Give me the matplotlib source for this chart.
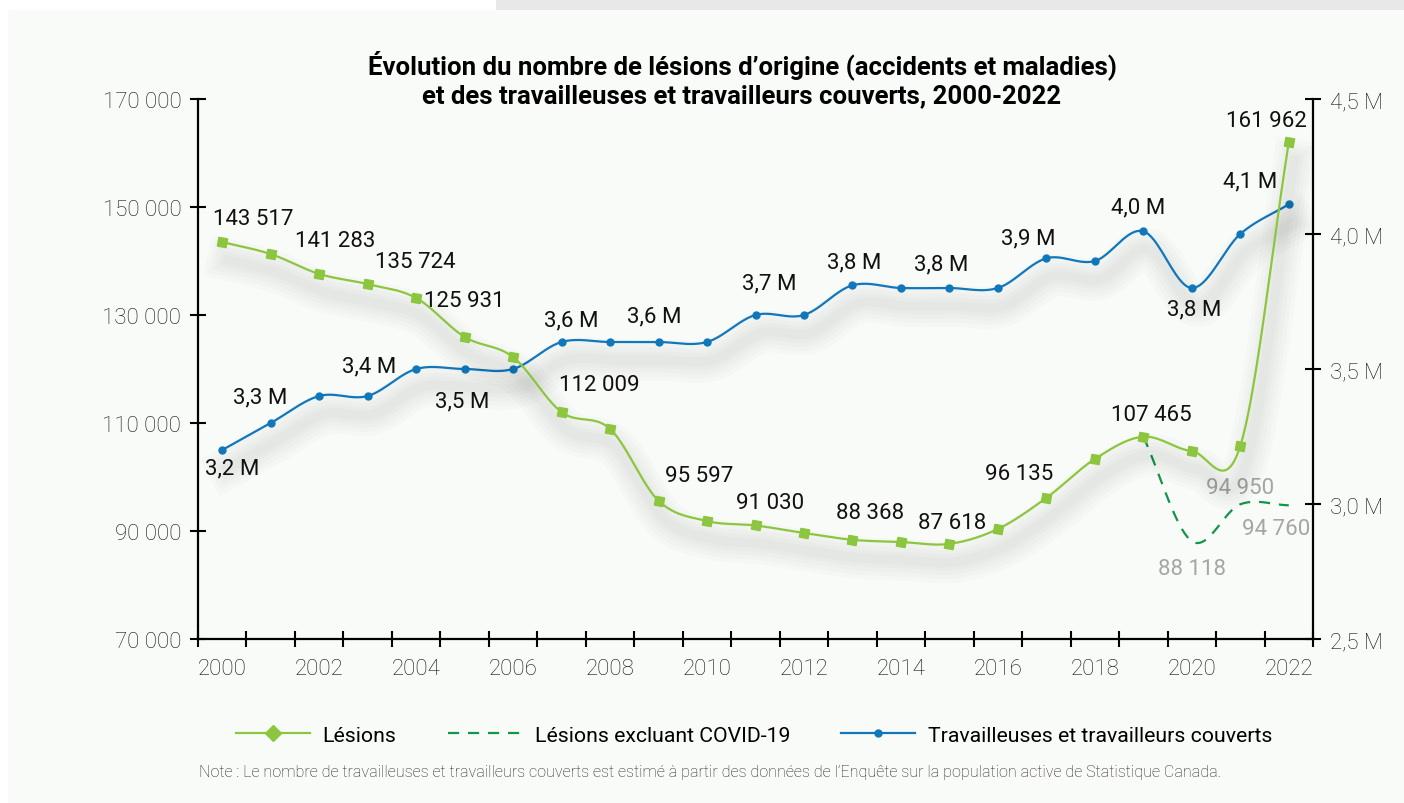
import numpy as np
import matplotlib
matplotlib.use("Agg")
import matplotlib.pyplot as plt
import matplotlib.patheffects as pe
from matplotlib.lines import Line2D
from matplotlib.patches import Rectangle

plt.rcParams['font.family'] = ['Roboto', 'DejaVu Sans']

# Data
years = list(range(2000, 2023))
lesions = [143517, 141283, 137600, 135724, 133150, 125931, 122200, 112009, 108900, 95597,
           91850, 91030, 89630, 88368, 87960, 87618, 90370, 96135, 103330, 107465,
           104800, 105740, 161962]
covid_years = [2019, 2020, 2021, 2022]
lesions_sans_covid = [107465, 88118, 94950, 94760]
travailleurs = [3.20, 3.30, 3.40, 3.40, 3.50, 3.50, 3.50, 3.60, 3.60, 3.60,
                3.60, 3.70, 3.70, 3.81, 3.80, 3.80, 3.80, 3.91, 3.90, 4.01,
                3.80, 4.00, 4.11]
year_labels = [str(y) for y in years[::2]]
left_ticks = [70000, 90000, 110000, 130000, 150000, 170000]
right_ticks = [2.5, 3.0, 3.5, 4.0, 4.5]

# which points get a label, and where the label sits (offset in px from the point)
les_lab = {2000: (31, 24), 2001: (64, 14), 2003: (48, 23), 2005: (0, 36), 2007: (38, 28),
           2009: (41, 25), 2011: (15, 23), 2013: (18, 27), 2015: (3, 21), 2017: (-27, 24),
           2019: (8, 22), 2022: (-22, 22)}
cov_lab = {2020: (0, -27), 2021: (0, 17), 2022: (-13, -23)}
trav_lab = {2000: (10, -18), 2001: (-11, 26), 2003: (1, 30), 2005: (-2, -32), 2007: (10, 22),
            2009: (-4, 26), 2011: (14, 32), 2013: (2, 23), 2015: (-8, 24), 2017: (-18, 20),
            2019: (-5, 24), 2020: (2, -21), 2022: (-39, 23)}

GREEN = '#8cc63f'
DGREEN = '#12964a'
BLUE = '#1177bb'
GREY = '#a5a5a5'


def smooth(x, y, n=24):
    # Catmull-Rom curve through the points
    x = np.asarray(x, float)
    y = np.asarray(y, float)
    px = np.concatenate([[2 * x[0] - x[1]], x, [2 * x[-1] - x[-2]]])
    py = np.concatenate([[2 * y[0] - y[1]], y, [2 * y[-1] - y[-2]]])
    xs, ys = [], []
    t = np.linspace(0, 1, n, endpoint=False)
    for i in range(1, len(px) - 2):
        for p, out in ((px, xs), (py, ys)):
            p0, p1, p2, p3 = p[i - 1], p[i], p[i + 1], p[i + 2]
            out.extend(0.5 * (2 * p1 + (-p0 + p2) * t + (2 * p0 - 5 * p1 + 4 * p2 - p3) * t ** 2
                              + (-p0 + 3 * p1 - 3 * p2 + p3) * t ** 3))
    xs.append(x[-1])
    ys.append(y[-1])
    return np.array(xs), np.array(ys)


def shadow():
    return [pe.Stroke(offset=(4, -13), linewidth=w, foreground='black', alpha=0.016)
            for w in (30, 24, 18, 12, 7)] + [pe.Normal()]


def fmt_num(v):
    return f"{v:,}".replace(",", " ")


fig = plt.figure(figsize=(14.04, 8.04), dpi=100)
fig.patch.set_facecolor('white')
fig.patches.append(Rectangle((496 / 1404, 1 - 11 / 804), 1, 11 / 804, transform=fig.transFigure,
                             facecolor='#e8e8e8', edgecolor='none', zorder=-10))
fig.patches.append(Rectangle((8 / 1404, 0), 1, 1 - 11 / 804, transform=fig.transFigure,
                             facecolor='#f9fbf8', edgecolor='none', zorder=-10))

ax = fig.add_axes([198 / 1404, 1 - 640 / 804, 1115 / 1404, 540 / 804])
ax.patch.set_alpha(0)
ax2 = ax.twinx()
ax2.patch.set_alpha(0)

idx = np.arange(len(years))
cidx = np.array([years.index(y) for y in covid_years])

# workers (right axis)
sx, sy = smooth(idx, travailleurs)
ax2.plot(sx, sy, color=BLUE, lw=1.6, path_effects=shadow(), zorder=2)
ax2.plot(idx, travailleurs, 'o', color=BLUE, ms=5, zorder=3)

# lesions (left axis)
sx, sy = smooth(cidx, lesions_sans_covid)
ax.plot(sx, sy, color=DGREEN, lw=1.6, dashes=(5, 4), zorder=4)
sx, sy = smooth(idx, lesions)
ax.plot(sx, sy, color=GREEN, lw=1.6, path_effects=shadow(), zorder=5)
ax.plot(idx, lesions, marker=(4, 0, 35), ls='none', color=GREEN, ms=9, zorder=6)
ax.set_zorder(ax2.get_zorder() + 1)

LBL = 16
for yr, (dx, dy) in les_lab.items():
    i = years.index(yr)
    ax.annotate(fmt_num(lesions[i]), (i, lesions[i]), xytext=(dx * 0.72, dy * 0.72),
                textcoords='offset points', ha='center', va='center', fontsize=LBL, color='#111')
for yr, (dx, dy) in cov_lab.items():
    j = covid_years.index(yr)
    ax.annotate(fmt_num(lesions_sans_covid[j]), (years.index(yr), lesions_sans_covid[j]),
                xytext=(dx * 0.72, dy * 0.72), textcoords='offset points',
                ha='center', va='center', fontsize=LBL, color=GREY)
for yr, (dx, dy) in trav_lab.items():
    i = years.index(yr)
    ax2.annotate(f"{travailleurs[i]:.1f} M".replace('.', ','), (i, travailleurs[i]),
                 xytext=(dx * 0.72, dy * 0.72), textcoords='offset points',
                 ha='center', va='center', fontsize=LBL, color='#111')

# axes
TK = 16
ax.set_xlim(-0.5, len(years) - 0.5)
ax.set_ylim(70000, 170000)
ax2.set_ylim(2.5, 4.5)
ax.set_xticks(np.arange(-0.5, len(years), 1.0))
ax.set_xticklabels([])
ax.set_xticks(idx[::2], minor=True)
ax.set_xticklabels(year_labels, minor=True)
ax.tick_params(axis='x', which='major', direction='inout', length=12, width=1.5, color='black')
ax.tick_params(axis='x', which='minor', length=0, pad=14, labelsize=TK, labelcolor='#111')
ax.set_yticks(left_ticks)
ax.set_yticklabels([fmt_num(v) for v in left_ticks])
ax.tick_params(axis='y', direction='inout', length=12, width=1.5, pad=6, labelsize=TK,
               labelcolor='#111')
ax2.set_yticks(right_ticks)
ax2.set_yticklabels([f"{v:.1f} M".replace('.', ',') for v in right_ticks])
ax2.tick_params(axis='y', direction='inout', length=12, width=1.5, pad=6, labelsize=TK,
                labelcolor='#111')
for lab in ax.get_xticklabels(minor=True) + ax.get_yticklabels() + ax2.get_yticklabels():
    lab.set_fontweight('light')
for a in (ax, ax2):
    a.spines['top'].set_visible(False)
    for s in ('left', 'right', 'bottom'):
        a.spines[s].set_linewidth(1.6)
        a.spines[s].set_color('black')
ax.spines['right'].set_visible(False)
ax2.spines['left'].set_visible(False)
ax2.spines['bottom'].set_visible(False)

fig.text(742 / 1404, 1 - 79 / 804,
         "Évolution du nombre de lésions d’origine (accidents et maladies)\n"
         "et des travailleuses et travailleurs couverts, 2000-2022",
         ha='center', va='center', fontsize=18.5, fontweight='bold', linespacing=1.25)

handles = [Line2D([], [], color=GREEN, lw=1.6, marker='D', ms=8),
           Line2D([], [], color=DGREEN, lw=1.6, dashes=(5, 4)),
           Line2D([], [], color=BLUE, lw=1.6, marker='o', ms=5)]
fig.legend(handles, ['Lésions', 'Lésions excluant COVID-19', 'Travailleuses et travailleurs couverts'],
           loc='center', bbox_to_anchor=(754 / 1404, 1 - 736 / 804), ncol=3, frameon=False,
           fontsize=15.3, handlelength=3.5, handletextpad=0.6, columnspacing=2.4)

fig.text(710 / 1404, 1 - 773 / 804,
         "Note : Le nombre de travailleuses et travailleurs couverts est estimé à partir des données "
         "de l’Enquête sur la population active de Statistique Canada.",
         ha='center', va='center', fontsize=11.6, fontweight='light', color='#222')

fig.savefig('out.png', dpi=100, facecolor=fig.get_facecolor())
